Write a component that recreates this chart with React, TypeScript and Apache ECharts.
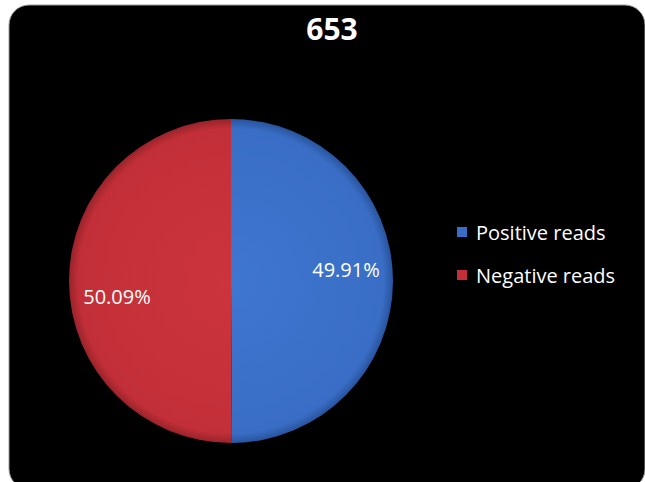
import React, { useEffect, useRef } from "react";
import * as echarts from "echarts";

const titleText = "653";
const categories = ["Positive reads", "Negative reads"];
const values = [49.91, 50.09];

export default function App() {
  const ref = useRef<HTMLDivElement>(null);
  useEffect(() => {
    if (!ref.current) return;
    const chart = echarts.init(ref.current, null, { renderer: "svg" });
    const font = "'Open Sans', 'Noto Sans', sans-serif";
    const cx = 231;
    const cy = 281;
    const rad = 162;
    const grad = (inner: string, mid: string, outer: string) => ({
      type: "radial",
      x: cx,
      y: cy,
      r: rad,
      global: true,
      colorStops: [
        { offset: 0, color: inner },
        { offset: 0.94, color: mid },
        { offset: 1, color: outer },
      ],
    });
    const colors = [
      grad("#3f76d0", "#3a6ec6", "#28549e"),
      grad("#cc343d", "#c32f38", "#99232a"),
    ];
    const legendColors = ["#3a6ec6", "#c32f38"];
    const offsets = [
      [31, -11],
      [-30, 15],
    ];
    chart.setOption({
      animation: false,
      backgroundColor: "#ffffff",
      graphic: [
        {
          type: "rect",
          shape: { x: 9, y: 5, width: 636, height: 484, r: 20 },
          style: { fill: "#000000", stroke: "#9a9a9a", lineWidth: 1 },
          z: -10,
        },
      ],
      title: {
        text: titleText,
        left: 327,
        top: 8,
        textAlign: "center",
        textStyle: {
          color: "#ffffff",
          fontSize: 30,
          fontWeight: "bold",
          fontFamily: font,
        },
      },
      legend: {
        orient: "vertical",
        left: 452,
        top: 217,
        itemWidth: 10,
        itemHeight: 10,
        itemGap: 23,
        icon: "rect",
        data: categories.map((name, i) => ({
          name,
          itemStyle: { color: legendColors[i] },
        })),
        textStyle: {
          color: "#ffffff",
          fontSize: 20,
          fontFamily: font,
          padding: [0, 0, 0, 4],
        },
      },
      series: [
        {
          type: "pie",
          center: [cx, cy],
          radius: rad,
          startAngle: 90,
          clockwise: true,
          label: {
            show: true,
            position: "inside",
            formatter: "{d}%",
            color: "#ffffff",
            fontSize: 20,
            fontFamily: font,
          },
          labelLine: { show: false },
          emphasis: { disabled: true },
          data: categories.map((name, i) => ({
            name,
            value: values[i],
            itemStyle: { color: colors[i] },
            label: { offset: offsets[i] },
          })),
        },
      ],
    });
    return () => chart.dispose();
  }, []);
  return (
    <div
      ref={ref}
      style={{ position: "fixed", left: 0, top: 0, width: 645, height: 482 }}
    />
  );
}
